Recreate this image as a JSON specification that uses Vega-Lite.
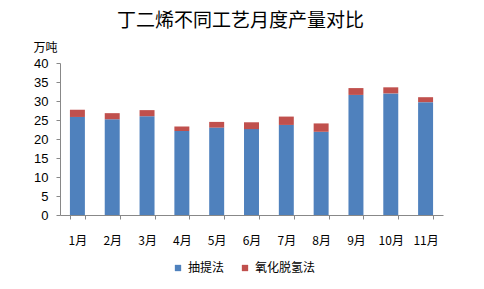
{
  "$schema": "https://vega.github.io/schema/vega-lite/v6.json",
  "width": 383,
  "height": 152,
  "autosize": {"type": "none"},
  "padding": {"left": 60, "top": 63, "right": 41, "bottom": 74},
  "background": "white",
  "title": {
    "text": "丁二烯不同工艺月度产量对比",
    "font": "Noto Sans CJK SC",
    "fontSize": 19,
    "fontWeight": "normal",
    "color": "#000000",
    "anchor": "middle",
    "dx": -11,
    "offset": 10
  },
  "data": {
    "values": [
      {"month": "1月", "method": "抽提法", "value": 25.8},
      {"month": "1月", "method": "氧化脱氢法", "value": 1.9},
      {"month": "2月", "method": "抽提法", "value": 25.2},
      {"month": "2月", "method": "氧化脱氢法", "value": 1.6},
      {"month": "3月", "method": "抽提法", "value": 26.0},
      {"month": "3月", "method": "氧化脱氢法", "value": 1.6},
      {"month": "4月", "method": "抽提法", "value": 22.1},
      {"month": "4月", "method": "氧化脱氢法", "value": 1.2},
      {"month": "5月", "method": "抽提法", "value": 23.0},
      {"month": "5月", "method": "氧化脱氢法", "value": 1.5},
      {"month": "6月", "method": "抽提法", "value": 22.6},
      {"month": "6月", "method": "氧化脱氢法", "value": 1.8},
      {"month": "7月", "method": "抽提法", "value": 23.7},
      {"month": "7月", "method": "氧化脱氢法", "value": 2.2},
      {"month": "8月", "method": "抽提法", "value": 21.9},
      {"month": "8月", "method": "氧化脱氢法", "value": 2.2},
      {"month": "9月", "method": "抽提法", "value": 31.6},
      {"month": "9月", "method": "氧化脱氢法", "value": 1.8},
      {"month": "10月", "method": "抽提法", "value": 32.0},
      {"month": "10月", "method": "氧化脱氢法", "value": 1.6},
      {"month": "11月", "method": "抽提法", "value": 29.7},
      {"month": "11月", "method": "氧化脱氢法", "value": 1.3}
    ]
  },
  "mark": {"type": "bar", "stroke": null},
  "encoding": {
    "x": {
      "field": "month",
      "type": "ordinal",
      "sort": null,
      "scale": {"paddingInner": 0.57, "paddingOuter": 0.285},
      "axis": {
        "title": null,
        "labelAngle": 0,
        "labelFont": "Noto Sans CJK SC",
        "labelFontSize": 12,
        "labelColor": "#000000",
        "labelPadding": 16,
        "domainColor": "#888888",
        "tickColor": "#888888",
        "ticks": true,
        "tickBand": "extent",
        "tickSize": 4
      }
    },
    "y": {
      "field": "value",
      "type": "quantitative",
      "stack": "zero",
      "scale": {"domain": [0, 40]},
      "axis": {
        "title": "万吨",
        "titleAngle": 0,
        "titleAlign": "left",
        "titleBaseline": "bottom",
        "titleX": -27,
        "titleY": -9,
        "titleFont": "Noto Sans CJK SC",
        "titleFontSize": 12,
        "titleFontWeight": "normal",
        "titleColor": "#000000",
        "values": [0, 5, 10, 15, 20, 25, 30, 35, 40],
        "grid": false,
        "labelFont": "Liberation Sans",
        "labelFontSize": 13,
        "labelColor": "#000000",
        "labelPadding": 8,
        "domainColor": "#888888",
        "tickColor": "#888888",
        "tickSize": 4
      }
    },
    "color": {
      "field": "method",
      "type": "nominal",
      "scale": {"domain": ["抽提法", "氧化脱氢法"], "range": ["#4F81BD", "#C0504D"]},
      "legend": {
        "title": null,
        "orient": "none",
        "direction": "horizontal",
        "legendX": 112,
        "legendY": 199,
        "symbolType": "square",
        "symbolSize": 40,
        "symbolStrokeWidth": 0,
        "labelFont": "Noto Sans CJK SC",
        "labelFontSize": 12,
        "labelColor": "#000000",
        "columnPadding": 14,
        "labelOffset": 4
      }
    },
    "order": {"field": "method", "sort": "ascending"}
  },
  "config": {"view": {"stroke": null}}
}
